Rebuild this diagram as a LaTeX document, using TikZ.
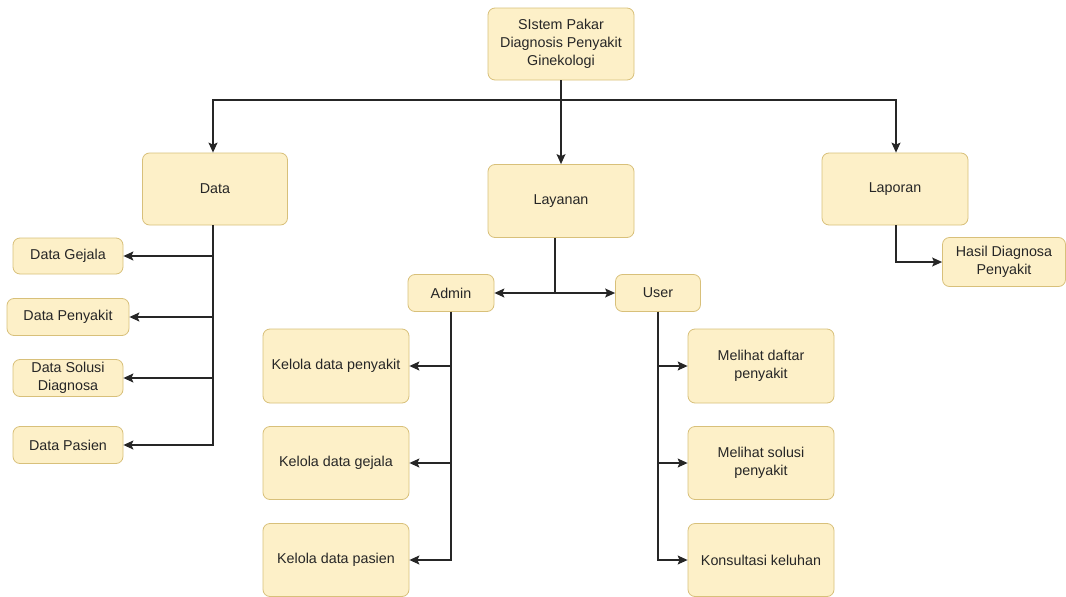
\documentclass[tikz,border=0pt]{standalone}
\usepackage{fontspec}
\setmainfont{Liberation Sans}
\usetikzlibrary{arrows.meta}
\definecolor{boxfill}{HTML}{FDF0C8}
\definecolor{boxline}{HTML}{D8C07A}
\definecolor{txt}{HTML}{262626}
\begin{document}
\begin{tikzpicture}[x=1pt,y=-1pt,
  box/.style={draw=boxline,fill=boxfill,rounded corners=7pt,line width=0.8pt,
    align=center,text=txt,font=\fontsize{14.3}{18}\selectfont,inner sep=0pt},
  conn/.style={draw=black!85,line width=1.2pt,-{Stealth[length=10pt,width=9pt,inset=2pt]}},
  plain/.style={draw=black!85,line width=1.2pt}]
\useasboundingbox (0,0) rectangle (1066,597);
% top level
\node[box,minimum width=146pt,minimum height=72pt] (root) at (561,44) {SIstem Pakar\\Diagnosis Penyakit\\Ginekologi};
\node[box,minimum width=145pt,minimum height=72pt] (data) at (215,189) {Data};
\node[box,minimum width=146pt,minimum height=73pt] (lay) at (561,201) {Layanan};
\node[box,minimum width=146pt,minimum height=72pt] (lap) at (895,189) {Laporan};
\node[box,minimum width=123pt,minimum height=49pt] (hasil) at (1004,262) {Hasil Diagnosa\\Penyakit};
% data branch
\node[box,minimum width=110pt,minimum height=36pt] (dg) at (68,256) {Data Gejala};
\node[box,minimum width=122pt,minimum height=37pt] (dp) at (68,317) {Data Penyakit};
\node[box,minimum width=110pt,minimum height=37pt] (ds) at (68,378) {Data Solusi\\Diagnosa};
\node[box,minimum width=110pt,minimum height=37pt] (dpa) at (68,445) {Data Pasien};
% layanan branch
\node[box,minimum width=86pt,minimum height=37pt] (admin) at (451,293) {Admin};
\node[box,minimum width=85pt,minimum height=37pt] (user) at (658,293) {User};
\node[box,minimum width=146pt,minimum height=74pt] (k1) at (336,366) {Kelola data penyakit};
\node[box,minimum width=146pt,minimum height=73pt] (k2) at (336,463) {Kelola data gejala};
\node[box,minimum width=146pt,minimum height=73pt] (k3) at (336,560) {Kelola data pasien};
\node[box,minimum width=146pt,minimum height=74pt] (m1) at (761,366) {Melihat daftar\\penyakit};
\node[box,minimum width=146pt,minimum height=73pt] (m2) at (761,463) {Melihat solusi\\penyakit};
\node[box,minimum width=146pt,minimum height=73pt] (m3) at (761,560) {Konsultasi keluhan};
% junction points
\coordinate (hub) at (561,100);
\coordinate (dbus) at (213,100);
\coordinate (lbus) at (896,100);
\coordinate (ajoin) at (555,293);
% top connectors
\draw[plain,line width=1.8pt] (root.south) -- (hub);
\draw[conn] (hub) -| (data.north -| dbus);
\draw[conn] (hub) -- (lay.north);
\draw[conn] (hub) -| (lap.north -| lbus);
% laporan
\draw[conn] (lap.south -| lbus) |- (hasil.west);
% data children
\coordinate (dv) at (213,225);
\draw[conn] (dv) |- (dg.east);
\draw[conn] (dv) |- (dp.east);
\draw[conn] (dv) |- (ds.east);
\draw[conn] (dv) |- (dpa.east);
% admin / user split
\draw[plain] (lay.south -| ajoin) -- (ajoin);
\draw[conn] (ajoin) -- (admin.east);
\draw[conn] (ajoin) -- (user.west);
% admin children
\draw[conn] (admin.south) |- (k1.east);
\draw[conn] (admin.south) |- (k2.east);
\draw[conn] (admin.south) |- (k3.east);
% user children
\draw[conn] (user.south) |- (m1.west);
\draw[conn] (user.south) |- (m2.west);
\draw[conn] (user.south) |- (m3.west);
\end{tikzpicture}
\end{document}
